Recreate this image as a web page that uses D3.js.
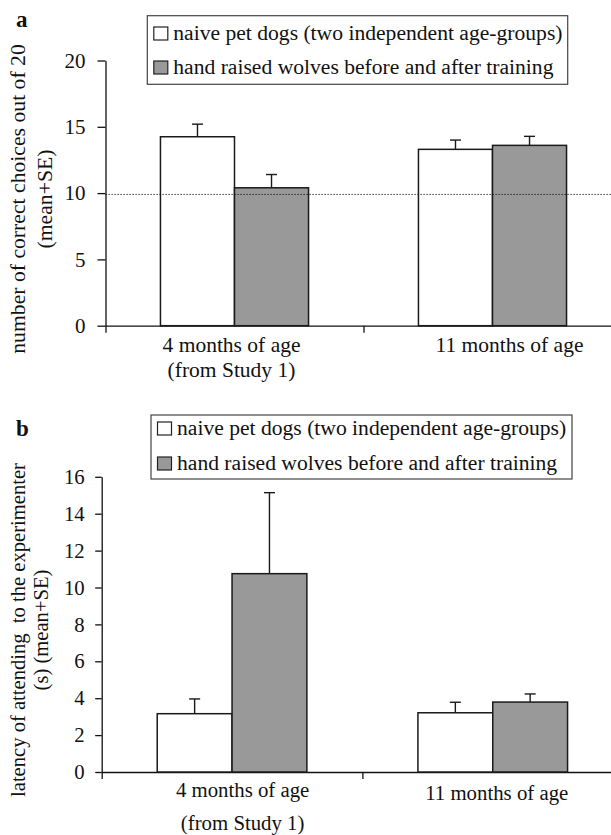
<!DOCTYPE html>
<html>
<head>
<meta charset="utf-8">
<script src="https://cdn.jsdelivr.net/npm/d3@7"></script>
<style>
  html, body { margin: 0; padding: 0; background: #fff; }
  svg { display: block; }
</style>
</head>
<body>
<svg id="chart" width="611" height="835" viewBox="0 0 611 835"></svg>
<script>
// groups on the x axis
const groups = ["4 months of age", "11 months of age"];
const groupSubLabels = ["(from Study 1)", ""];
const seriesNames = ["naive pet dogs (two independent age-groups)", "hand raised wolves before and after training"];
const seriesKeys = ["dogs", "wolves"];

// panel a: correct choices out of 20 (mean + SE)
const choicesDogs = [14.25, 13.3];
const choicesDogsSE = [0.95, 0.7];
const choicesWolves = [10.4, 13.6];
const choicesWolvesSE = [1.0, 0.68];
const chanceLevel = 9.9;
const choicesTicks = [0, 5, 10, 15, 20];

// panel b: latency of attending to the experimenter (s)
const latencyDogs = [3.16, 3.21];
const latencyDogsSE = [0.8, 0.57];
const latencyWolves = [10.75, 3.79];
const latencyWolvesSE = [4.39, 0.44];
const latencyTicks = [0, 2, 4, 6, 8, 10, 12, 14, 16];

const FONT = '"Liberation Serif", "Times New Roman", Times, "DejaVu Serif", serif';
const svg = d3.select("#chart");
const colors = { dogs: "#ffffff", wolves: "#999999" };

function drawPanel(cfg) {
    const g = svg.append("g");

    const rows = groups.map((grp, i) => ({
        group: grp,
        dogs: cfg.dogs[i], dogsSE: cfg.dogsSE[i],
        wolves: cfg.wolves[i], wolvesSE: cfg.wolvesSE[i]
    }));

    const x0 = d3.scaleBand()
        .domain(groups)
        .range([cfg.axisX, cfg.axisX + 2 * cfg.bandW]);
    const x1 = d3.scaleBand()
        .domain(seriesKeys)
        .range([x0.bandwidth() * 0.213, x0.bandwidth() * 0.787]);
    const xEdge = d3.scaleLinear()
        .domain([0, groups.length])
        .range([cfg.axisX, cfg.axisX + 2 * cfg.bandW]);
    const y = d3.scaleLinear()
        .domain(cfg.domain)
        .range([cfg.yBottom, cfg.yTop]);

    // y axis
    const yAxis = g.append("g")
        .attr("transform", `translate(${cfg.axisX},0)`)
        .call(d3.axisLeft(y)
            .tickValues(cfg.ticks)
            .tickSize(cfg.tickSize)
            .tickSizeOuter(0)
            .tickPadding(cfg.tickPad));
    yAxis.selectAll("path, line").attr("stroke", "#111").attr("stroke-width", 1.3);
    yAxis.selectAll("text")
        .style("font-family", FONT)
        .style("font-size", cfg.tickFont + "px")
        .attr("fill", "#111");

    // x axis with ticks at category edges
    const xAxis = g.append("g")
        .attr("transform", `translate(0,${cfg.yBottom})`)
        .call(d3.axisBottom(xEdge)
            .tickValues([0, 1, 2])
            .tickSize(7)
            .tickSizeOuter(0)
            .tickFormat(""));
    xAxis.selectAll("path, line").attr("stroke", "#111").attr("stroke-width", 1.3);

    // bars
    const grp = g.append("g").selectAll("g")
        .data(rows)
        .join("g")
        .attr("transform", d => `translate(${x0(d.group)},0)`);

    grp.selectAll("rect")
        .data(d => seriesKeys.map(k => ({ key: k, value: d[k], se: d[k + "SE"] })))
        .join("rect")
        .attr("x", d => x1(d.key))
        .attr("y", d => y(d.value))
        .attr("width", x1.bandwidth())
        .attr("height", d => y(cfg.domain[0]) - y(d.value))
        .attr("fill", d => colors[d.key])
        .attr("stroke", "#1a1a1a")
        .attr("stroke-width", 1.5);

    // error bars (mean + SE only)
    const err = grp.selectAll("g.err")
        .data(d => seriesKeys.map(k => ({ key: k, value: d[k], se: d[k + "SE"] })))
        .join("g")
        .attr("class", "err");
    err.append("line")
        .attr("x1", d => x1(d.key) + x1.bandwidth() / 2)
        .attr("x2", d => x1(d.key) + x1.bandwidth() / 2)
        .attr("y1", d => y(d.value))
        .attr("y2", d => y(d.value + d.se))
        .attr("stroke", "#1a1a1a").attr("stroke-width", 1.4);
    err.append("line")
        .attr("x1", d => x1(d.key) + x1.bandwidth() / 2 - 5.5)
        .attr("x2", d => x1(d.key) + x1.bandwidth() / 2 + 5.5)
        .attr("y1", d => y(d.value + d.se))
        .attr("y2", d => y(d.value + d.se))
        .attr("stroke", "#1a1a1a").attr("stroke-width", 1.4);

    // chance level
    if (cfg.chance !== undefined) {
        g.append("line")
            .attr("x1", cfg.axisX)
            .attr("x2", 611)
            .attr("y1", y(cfg.chance))
            .attr("y2", y(cfg.chance))
            .attr("stroke", "#111")
            .attr("stroke-width", 1)
            .attr("stroke-dasharray", "1.2,1.8");
    }

    // category labels
    g.append("g").selectAll("text")
        .data(groups)
        .join("text")
        .attr("x", (d, i) => x0(d) + x0.bandwidth() / 2 + cfg.labelDx[i])
        .attr("y", (d, i) => cfg.labelY[i])
        .attr("text-anchor", "middle")
        .style("font-family", FONT)
        .style("font-size", cfg.labelFont + "px")
        .attr("fill", "#111")
        .text(d => d);
    g.append("g").selectAll("text")
        .data(groupSubLabels)
        .join("text")
        .attr("x", (d, i) => x0(groups[i]) + x0.bandwidth() / 2 + cfg.labelDx[i])
        .attr("y", cfg.subLabelY)
        .attr("text-anchor", "middle")
        .style("font-family", FONT)
        .style("font-size", cfg.labelFont + "px")
        .attr("fill", "#111")
        .text(d => d);

    // y axis title, two lines rotated
    cfg.title.forEach((line, i) => {
        g.append("text")
            .attr("transform", `translate(${cfg.titleX[i]},${cfg.titleCY}) rotate(-90)`)
            .attr("text-anchor", "middle")
            .style("font-family", FONT)
            .style("font-size", cfg.titleFont + "px")
            .style("white-space", "pre")
            .attr("fill", "#111")
            .text(line);
    });

    // panel letter
    g.append("text")
        .attr("x", 16)
        .attr("y", cfg.letterY)
        .style("font-family", FONT)
        .style("font-size", "23px")
        .style("font-weight", "bold")
        .attr("fill", "#111")
        .text(cfg.letter);

    // legend
    const lg = cfg.legend;
    g.append("rect")
        .attr("x", lg.x).attr("y", lg.y)
        .attr("width", lg.w).attr("height", lg.h)
        .attr("fill", "#fff")
        .attr("stroke", "#444")
        .attr("stroke-width", 1.2);
    seriesKeys.forEach((k, i) => {
        g.append("rect")
            .attr("x", lg.x + 6.5)
            .attr("y", lg.baseline[i] - 13)
            .attr("width", 14)
            .attr("height", 13)
            .attr("fill", colors[k])
            .attr("stroke", "#222")
            .attr("stroke-width", 1.2);
        g.append("text")
            .attr("x", lg.x + 26)
            .attr("y", lg.baseline[i])
            .style("font-family", FONT)
            .style("font-size", "21.6px")
            .attr("fill", "#111")
            .text(seriesNames[i]);
    });
}

drawPanel({
    letter: "a", letterY: 27,
    dogs: choicesDogs, dogsSE: choicesDogsSE,
    wolves: choicesWolves, wolvesSE: choicesWolvesSE,
    chance: chanceLevel,
    domain: [0, 20], ticks: choicesTicks,
    axisX: 105.5, bandW: 258, yTop: 60.5, yBottom: 325.7,
    tickSize: 8, tickPad: 12, tickFont: 21,
    labelDx: [-3, 17], labelY: [351.7, 351.7], subLabelY: 376.7, labelFont: 21.5,
    title: ["number of correct choices out of 20", "(mean+SE)"],
    titleX: [25, 52], titleCY: 199, titleFont: 21.7,
    legend: { x: 147.3, y: 15.7, w: 420.4, h: 68.6, baseline: [40, 74] }
});

drawPanel({
    letter: "b", letterY: 436,
    dogs: latencyDogs, dogsSE: latencyDogsSE,
    wolves: latencyWolves, wolvesSE: latencyWolvesSE,
    domain: [0, 16], ticks: latencyTicks,
    axisX: 101.7, bandW: 260.7, yTop: 476.8, yBottom: 772,
    tickSize: 6.5, tickPad: 10.5, tickFont: 20.7,
    labelDx: [10.6, 4], labelY: [797, 800], subLabelY: 830, labelFont: 20.8,
    title: ["latency of attending  to the experimenter", "(s) (mean+SE)"],
    titleX: [25, 48], titleCY: 630, titleFont: 20.6,
    legend: { x: 151, y: 415, w: 421, h: 64, baseline: [435, 470] }
});
</script>
</body>
</html>
